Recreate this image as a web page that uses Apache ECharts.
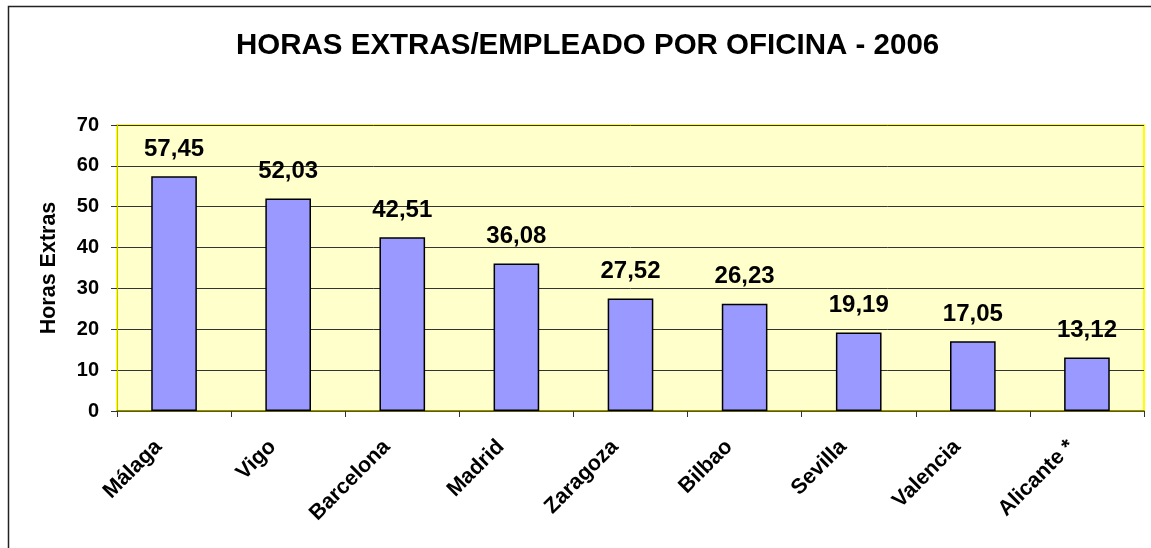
<!DOCTYPE html>
<html>
<head>
<meta charset="utf-8">
<script src="https://cdn.jsdelivr.net/npm/echarts@6/dist/echarts.min.js"></script>
<style>
html,body{margin:0;padding:0;background:#fff;}
#chart{width:1151px;height:548px;}
</style>
</head>
<body>
<div id="chart"></div>
<script>
const titleText = "HORAS EXTRAS/EMPLEADO POR OFICINA - 2006";
const categories = ["Málaga", "Vigo", "Barcelona", "Madrid", "Zaragoza", "Bilbao", "Sevilla", "Valencia", "Alicante *"];
const horasExtras = [57.45, 52.03, 42.51, 36.08, 27.52, 26.23, 19.19, 17.05, 13.12];
const yAxisName = "Horas Extras";
const yMin = 0, yMax = 70, yInterval = 10;

const FONT = "'Liberation Sans', Arial, sans-serif";
const chart = echarts.init(document.getElementById('chart'), null, {renderer: 'canvas'});
chart.setOption({
  animation: false,
  backgroundColor: '#ffffff',
  title: {
    text: titleText,
    left: 236, top: 31, padding: 0,
    textStyle: {fontFamily: FONT, fontWeight: 'bold', fontSize: 29.5, color: '#000'}
  },
  graphic: [{
    type: 'rect', silent: true, z: -1,
    shape: {x: 8.5, y: 6.5, width: 1300, height: 700},
    style: {fill: 'none', stroke: '#222', lineWidth: 1.5}
  }],
  grid: {
    left: 117, right: 7, top: 125, bottom: 137,
    show: true, backgroundColor: '#FFFFCC', borderColor: '#FFFF00', borderWidth: 2,
    containLabel: false
  },
  xAxis: {
    type: 'category', data: categories,
    axisLine: {show: true, lineStyle: {color: '#6B6B00', width: 1.5}},
    axisTick: {show: true, length: 6, alignWithLabel: false, lineStyle: {color: '#333'}},
    axisLabel: {
      rotate: 45, interval: 0, margin: 17, padding: [0, 22, 0, 0],
      fontFamily: FONT, fontWeight: 'bold', fontSize: 21.5, color: '#000'
    }
  },
  yAxis: {
    type: 'value', min: yMin, max: yMax, interval: yInterval,
    name: yAxisName, nameLocation: 'middle', nameGap: 57, nameRotate: 90,
    nameTextStyle: {fontFamily: FONT, fontWeight: 'bold', fontSize: 21.5, color: '#000'},
    axisLine: {show: true, lineStyle: {color: '#C8C800', width: 1}},
    axisTick: {show: true, length: 6, lineStyle: {color: '#333'}},
    axisLabel: {margin: 18, fontFamily: FONT, fontWeight: 'bold', fontSize: 20, color: '#000'},
    splitLine: {show: true, lineStyle: {color: '#333', width: 1}}
  },
  series: [{
    type: 'bar', data: horasExtras, barWidth: '40%',
    itemStyle: {color: '#9999FF', borderColor: '#000', borderWidth: 1.5},
    label: {
      show: true, position: 'top', distance: 15,
      fontFamily: FONT, fontWeight: 'bold', fontSize: 24, color: '#000',
      formatter: p => p.value.toFixed(2).replace('.', ',')
    }
  }]
});
</script>
</body>
</html>
